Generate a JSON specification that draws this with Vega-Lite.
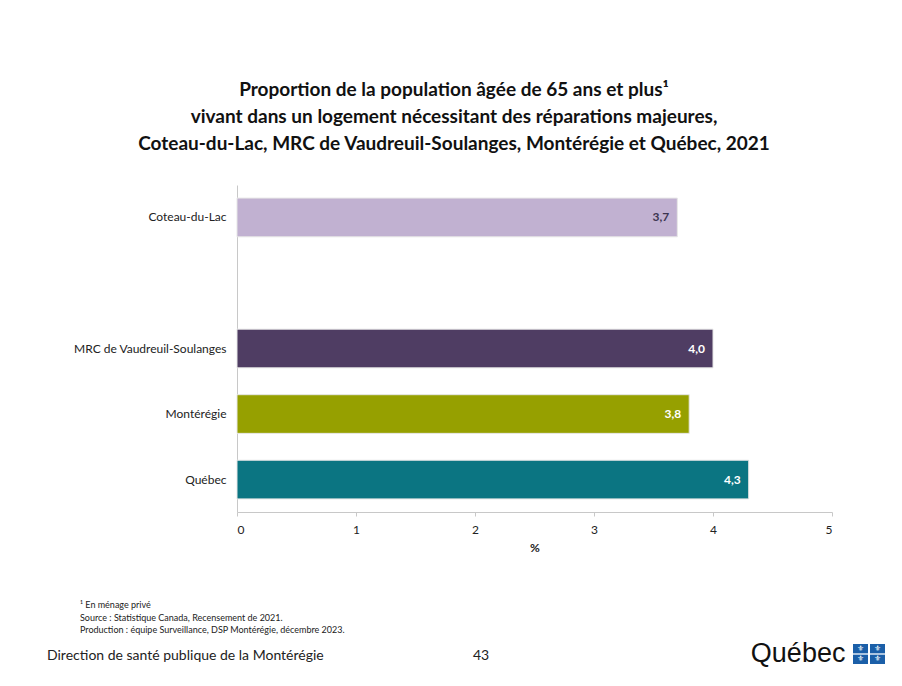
{
  "$schema": "https://vega.github.io/schema/vega-lite/v6.json",
  "padding": {"left": 47, "top": 81, "right": 0, "bottom": 0},
  "background": "white",
  "config": {
    "locale": {"number": {"decimal": ",", "thousands": " ", "grouping": [3], "currency": ["", " $"]}},
    "font": "Lato",
    "view": {"stroke": null},
    "concat": {"spacing": 5}
  },
  "title": {
    "text": ["Proportion de la population âgée de 65 ans et plus¹", "vivant dans un logement nécessitant des réparations majeures,", "Coteau-du-Lac, MRC de Vaudreuil-Soulanges, Montérégie et Québec, 2021"],
    "fontSize": 19, "fontWeight": "bold", "lineHeight": 27, "anchor": "middle", "frame": "bounds", "offset": 31, "dx": -12, "color": "#111111"
  },
  "vconcat": [
    {
      "width": 595,
      "height": 327,
      "data": {"values": [
        {"region": "Coteau-du-Lac", "pct": 3.7},
        {"region": "MRC de Vaudreuil-Soulanges", "pct": 4.0},
        {"region": "Montérégie", "pct": 3.8},
        {"region": "Québec", "pct": 4.3}
      ]},
      "encoding": {
        "y": {
          "field": "region", "type": "nominal", "sort": null,
          "scale": {"domain": ["Coteau-du-Lac", " ", "MRC de Vaudreuil-Soulanges", "Montérégie", "Québec"], "paddingInner": 0.41, "paddingOuter": 0.2},
          "axis": {"title": null, "ticks": false, "domainColor": "#c8c8c8", "labelFontSize": 12, "labelColor": "#222222", "labelPadding": 11, "minExtent": 190}
        },
        "x": {
          "field": "pct", "type": "quantitative", "scale": {"domain": [0, 5]},
          "axis": {"title": "%", "values": [0, 1, 2, 3, 4, 5], "format": "d", "grid": false, "domainColor": "#c8c8c8", "tickColor": "#c8c8c8", "tickSize": 4, "labelFontSize": 12, "labelColor": "#222222", "labelPadding": 8, "titleFontSize": 12, "titleFontWeight": "bold", "titleColor": "#222222", "titlePadding": 7}
        }
      },
      "layer": [
        {
          "mark": {"type": "bar", "stroke": "#e6e6e6", "strokeWidth": 1},
          "encoding": {
            "color": {"field": "region", "type": "nominal",
              "scale": {"domain": ["Coteau-du-Lac", "MRC de Vaudreuil-Soulanges", "Montérégie", "Québec"], "range": ["#c1b1d1", "#4f3d63", "#96a000", "#0b7582"]},
              "legend": null}
          }
        },
        {
          "mark": {"type": "text", "align": "right", "baseline": "middle", "dx": -8, "fontWeight": "bold", "fontSize": 12},
          "encoding": {
            "text": {"field": "pct", "type": "quantitative", "format": ".1f"},
            "color": {"condition": {"test": "datum.region === 'Coteau-du-Lac'", "value": "#3d3550"}, "value": "#ffffff"}
          }
        }
      ]
    },
    {
      "width": 400,
      "height": 43,
      "data": {"values": [{}]},
      "mark": {"type": "point", "opacity": 0},
      "encoding": {},
      "title": {
        "text": ["¹ En ménage privé", "Source : Statistique Canada, Recensement de 2021.", "Production : équipe Surveillance, DSP Montérégie, décembre 2023."],
        "orient": "bottom", "anchor": "start", "fontSize": 9, "fontWeight": "normal", "lineHeight": 12.5, "offset": 0, "dx": -157, "color": "#222222"
      }
    },
    {
      "spacing": 0,
      "bounds": "flush",
      "hconcat": [
        {
          "width": 236, "height": 5,
          "data": {"values": [{}]},
          "mark": {"type": "point", "opacity": 0},
          "encoding": {},
          "title": {"text": "Direction de santé publique de la Montérégie", "orient": "bottom", "anchor": "start", "dx": -190, "fontSize": 14, "fontWeight": "normal", "color": "#222222", "offset": 0}
        },
        {
          "width": 380, "height": 5,
          "data": {"values": [{}]},
          "mark": {"type": "point", "opacity": 0},
          "encoding": {},
          "title": {"text": "43", "orient": "bottom", "anchor": "start", "fontSize": 14, "fontWeight": "normal", "color": "#222222", "offset": 0}
        },
        {
          "width": 32, "height": 20,
          "data": {"values": [
            {"c": "a", "r": "a"}, {"c": "b", "r": "a"}, {"c": "a", "r": "b"}, {"c": "b", "r": "b"}
          ]},
          "encoding": {
            "x": {"field": "c", "type": "ordinal", "axis": null, "scale": {"paddingInner": 0.12, "paddingOuter": 0}},
            "y": {"field": "r", "type": "ordinal", "axis": null, "scale": {"paddingInner": 0.12, "paddingOuter": 0}}
          },
          "layer": [
            {"mark": {"type": "rect", "fill": "#1b5fa8"}},
            {"mark": {"type": "text", "text": "⚜", "font": "DejaVu Sans", "fontSize": 8, "color": "white", "baseline": "middle", "align": "center"}}
          ],
          "title": {"text": "Québec", "orient": "left", "angle": 0, "align": "right", "baseline": "middle", "anchor": "middle", "dx": 91, "fontSize": 27, "fontWeight": "normal", "font": "Liberation Sans", "color": "#111111", "offset": 4}
        }
      ]
    }
  ]
}
